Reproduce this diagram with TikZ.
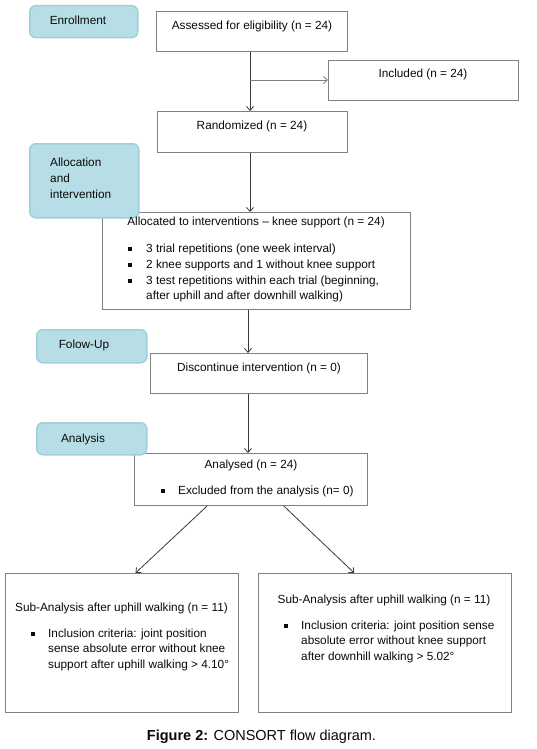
\documentclass[tikz,border=0pt]{standalone}
\usepackage{fontspec}
\setmainfont{Liberation Sans}
\usetikzlibrary{arrows.meta,calc}
\definecolor{lblfill}{HTML}{B7DEE6}
\definecolor{lbldraw}{HTML}{9DD0DB}
\definecolor{boxdraw}{HTML}{7F7F7F}
\definecolor{arrdraw}{HTML}{3A3A3A}
\definecolor{txtcol}{HTML}{0A0A0A}
\begin{document}
\begin{tikzpicture}[x=1pt,y=-1pt,
  lbl/.style={draw=lbldraw, fill=lblfill, line width=1.5pt, rounded corners=6pt, anchor=north west, inner sep=0pt},
  box/.style={draw=boxdraw, line width=0.9pt, fill=white, anchor=north west, inner sep=0pt},
  txt/.style={inner sep=0pt, text=txtcol, font=\fontsize{11.8}{15}\selectfont, text height=8.6pt, text depth=2.4pt},
  ltxt/.style={txt, anchor=west},
  bul/.style={fill=txtcol, inner sep=0pt, minimum width=3.2pt, minimum height=3.6pt},
  arr/.style={draw=arrdraw, line width=0.8pt, -{Straight Barb[length=4pt,width=7pt]}}
]
\useasboundingbox (0,0) rectangle (536,749);
\fill[white] (0,0) rectangle (536,749);

% boxes
\node[box, minimum width=191pt, minimum height=40pt] (assess) at (156,11) {};
\node[box, minimum width=190pt, minimum height=40pt] (incl) at (328,60) {};
\node[box, minimum width=190pt, minimum height=41pt] (rand) at (157,111) {};
\node[box, minimum width=308pt, minimum height=97pt] (alloc) at (102,212) {};
\node[box, minimum width=217pt, minimum height=40pt] (disc) at (150,353) {};
\node[box, minimum width=233pt, minimum height=52pt] (anal) at (134,453) {};
\node[box, minimum width=233pt, minimum height=139pt] (subL) at (5,573) {};
\node[box, minimum width=253pt, minimum height=139pt] (subR) at (258,573) {};

% stage labels
\node[lbl, minimum width=108pt, minimum height=32pt] (lenr) at (29,5) {};
\node[lbl, minimum width=109pt, minimum height=74pt] (lalloc) at (29,143) {};
\node[lbl, minimum width=110pt, minimum height=33pt] (lfol) at (36,329) {};
\node[lbl, minimum width=110pt, minimum height=32pt] (lana) at (36,422) {};

% connectors
\coordinate (sp1) at (250,0);
\coordinate (sp2) at (248,0);
\coordinate (br) at (250,80);
\draw[arr] (assess.south -| sp1) -- (rand.north -| sp1);
\draw[arr, draw=boxdraw] (br) -- (br -| incl.west);
\draw[arr] (rand.south -| sp1) -- (alloc.north -| sp1);
\draw[arr] (alloc.south -| sp2) -- (disc.north -| sp2);
\draw[arr] (disc.south -| sp2) -- (anal.north -| sp2);
\draw[arr] ($(anal.south west)!0.313!(anal.south east)$) -- ($(subL.north west)!0.558!(subL.north east)$);
\draw[arr] ($(anal.south west)!0.64!(anal.south east)$) -- ($(subR.north west)!0.379!(subR.north east)$);

% texts
\node[txt] (tenr) at (78,21) {Enrollment};
\node[txt] (tassess) at (252,26) {Assessed for eligibility (n = 24)};
\node[txt] (tincl) at (423,74) {Included (n = 24)};
\node[txt] (trand) at (252,126) {Randomized (n = 24)};

\node[ltxt] (tal1) at (50,163) {Allocation};
\node[ltxt] (tal2) at (50,179) {and};
\node[ltxt] (tal3) at (50,195) {intervention};

\node[txt] (talloc) at (256,222) {Allocated to interventions – knee support (n = 24)};
\node[bul] (ab1) at (130,249) {};
\node[ltxt] (at1) at (146,249) {3 trial repetitions (one week interval)};
\node[bul] (ab2) at (130,265) {};
\node[ltxt] (at2) at (146,265) {2 knee supports and 1 without knee support};
\node[bul] (ab3) at (130,281) {};
\node[ltxt] (at3) at (146,281) {3 test repetitions within each trial (beginning,};
\node[ltxt] (at4) at (146,296) {after uphill and after downhill walking)};

\node[txt] (tfol) at (84,345) {Folow-Up};
\node[txt] (tdisc) at (259,368) {Discontinue intervention (n = 0)};

\node[txt] (tana) at (83,439) {Analysis};
\node[txt] (tanal) at (251,465) {Analysed (n = 24)};
\node[bul] (eb1) at (163,491) {};
\node[ltxt] (et1) at (178,491) {Excluded from the analysis (n= 0)};

\node[txt] (tsubL) at (121.5,608) {Sub-Analysis after uphill walking (n = 11)};
\node[bul] (lb1) at (33,634) {};
\node[ltxt] (lt1) at (48,634) {Inclusion criteria: joint position};
\node[ltxt] (lt2) at (48,649) {sense absolute error without knee};
\node[ltxt] (lt3) at (48,665) {support after uphill walking > 4.10°};

\node[txt] (tsubR) at (384,600) {Sub-Analysis after uphill walking (n = 11)};
\node[bul] (rb1) at (286,626) {};
\node[ltxt] (rt1) at (301,626) {Inclusion criteria: joint position sense};
\node[ltxt] (rt2) at (301,641) {absolute error without knee support};
\node[ltxt] (rt3) at (301,657) {after downhill walking > 5.02°};

\node[txt, font=\fontsize{14.5}{17}\selectfont] (cap) at (261.5,737) {\textbf{Figure 2:} CONSORT flow diagram.};
\end{tikzpicture}
\end{document}
